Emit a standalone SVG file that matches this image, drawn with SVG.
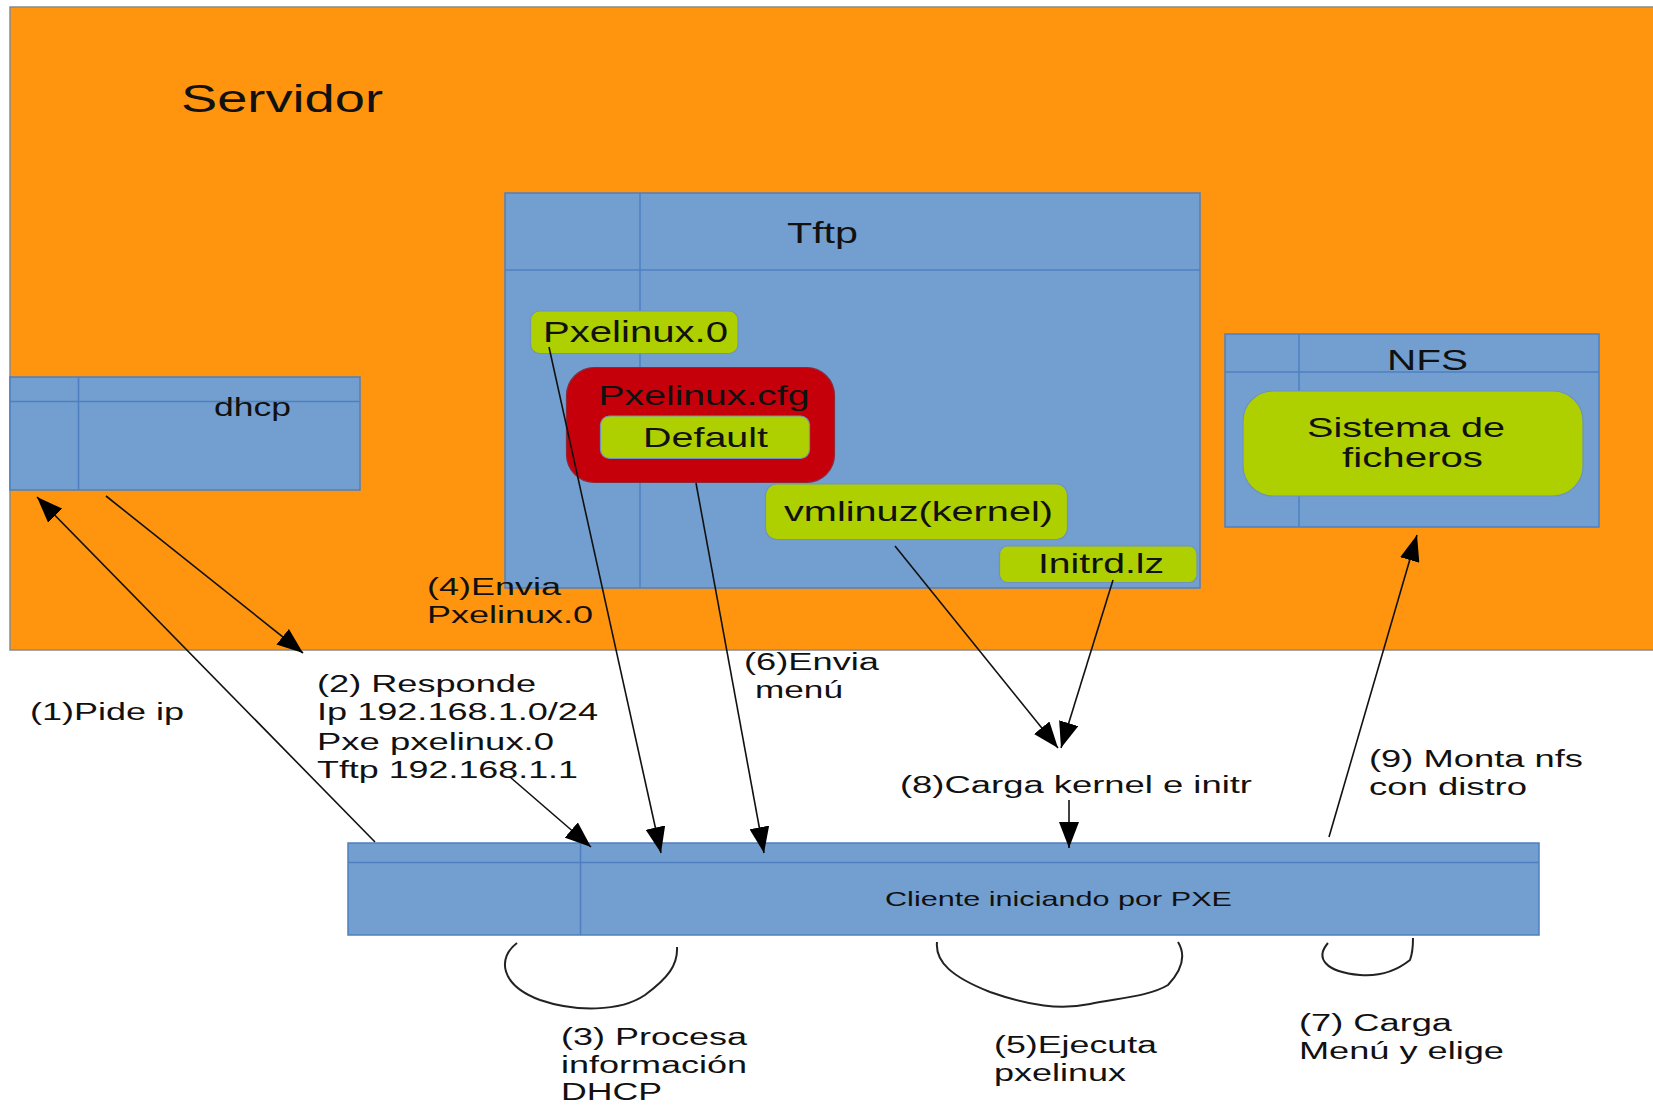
<svg xmlns="http://www.w3.org/2000/svg" width="1653" height="1107" viewBox="0 0 1653 1107">
<style>
text{font-family:"Liberation Sans",Arial,sans-serif;fill:#111;}
.blue{fill:#729FCF;stroke:#4F7FC0;stroke-width:1.5;}
.div{stroke:#4F7FC0;stroke-width:1.5;fill:none;}
.green{fill:#AECF00;stroke:#6F93BE;stroke-width:1.2;}
.red{fill:#C5000B;stroke:#8C2A3A;stroke-width:1.2;}
.conn{stroke:#111;stroke-width:1.6;fill:none;}
.arr{marker-end:url(#ah);}
.curve{stroke:#222;stroke-width:2;fill:none;}
.lbl{font-size:23px;}
</style>
<defs>
<marker id="ah" viewBox="0 0 26 20" refX="26" refY="10" markerWidth="26" markerHeight="20" markerUnits="userSpaceOnUse" orient="auto">
<path d="M0,0 L26,10 L0,20 z" fill="#000"/>
</marker>
</defs>
<rect width="1653" height="1107" fill="#fff"/>
<g id="servidor">
<rect x="10" y="7" width="1660" height="643" fill="#FF950E" stroke="#8a8a8a" stroke-width="1.5"/>
<text x="181" y="112" font-size="38" textLength="202" lengthAdjust="spacingAndGlyphs">Servidor</text>
</g>
<g id="dhcp">
<rect class="blue" x="10" y="377" width="350" height="113"/>
<line class="div" x1="10" y1="401.5" x2="360" y2="401.5"/>
<line class="div" x1="78.5" y1="377" x2="78.5" y2="490"/>
<text x="214" y="416" font-size="26" textLength="77" lengthAdjust="spacingAndGlyphs">dhcp</text>
</g>
<g id="tftp">
<rect class="blue" x="505" y="193" width="695" height="395"/>
<line class="div" x1="505" y1="270" x2="1200" y2="270"/>
<line class="div" x1="640" y1="193" x2="640" y2="588"/>
<text x="787" y="243" font-size="30" textLength="71" lengthAdjust="spacingAndGlyphs">Tftp</text>
</g>
<g id="pxelinux0">
<rect class="green" x="530.5" y="311" width="207.5" height="42.5" rx="9"/>
<text x="543" y="342" font-size="29" textLength="185" lengthAdjust="spacingAndGlyphs">Pxelinux.0</text>
</g>
<g id="pxelinuxcfg">
<rect class="red" x="566.5" y="367.5" width="268" height="115" rx="28"/>
<text x="598.5" y="405" font-size="28" textLength="211" lengthAdjust="spacingAndGlyphs">Pxelinux.cfg</text>
</g>
<g id="default">
<rect class="green" x="600.5" y="416" width="209" height="42.5" rx="9"/>
<text x="643" y="446.5" font-size="28" textLength="125" lengthAdjust="spacingAndGlyphs">Default</text>
</g>
<g id="vmlinuz">
<rect class="green" x="765.5" y="484" width="302" height="55.5" rx="11"/>
<text x="784" y="520.5" font-size="27" textLength="269" lengthAdjust="spacingAndGlyphs">vmlinuz(kernel)</text>
</g>
<g id="initrd">
<rect class="green" x="999.5" y="546" width="197.5" height="36.5" rx="8"/>
<text x="1038" y="573" font-size="28" textLength="126" lengthAdjust="spacingAndGlyphs">Initrd.lz</text>
</g>
<g id="nfs">
<rect class="blue" x="1225" y="334" width="374" height="193"/>
<line class="div" x1="1225" y1="372" x2="1599" y2="372"/>
<line class="div" x1="1299" y1="334" x2="1299" y2="527"/>
<text x="1387" y="370" font-size="30" textLength="81" lengthAdjust="spacingAndGlyphs">NFS</text>
</g>
<g id="sistema">
<rect class="green" x="1243" y="391" width="340" height="105" rx="30"/>
<text x="1307" y="437" font-size="28" textLength="198" lengthAdjust="spacingAndGlyphs">Sistema de</text>
<text x="1342" y="467" font-size="28" textLength="141" lengthAdjust="spacingAndGlyphs">ficheros</text>
</g>
<g id="cliente">
<rect class="blue" x="348" y="843" width="1191" height="92"/>
<line class="div" x1="348" y1="862.5" x2="1539" y2="862.5"/>
<line class="div" x1="580.5" y1="843" x2="580.5" y2="935"/>
<text x="885" y="906" font-size="21" textLength="347" lengthAdjust="spacingAndGlyphs">Cliente iniciando por PXE</text>
</g>
<g id="connectors">
<line class="conn arr" x1="375" y1="842" x2="37" y2="497"/>
<line class="conn arr" x1="106" y1="496" x2="303" y2="653"/>
<line class="conn arr" x1="510" y1="777" x2="591" y2="847"/>
<line class="conn arr" x1="549" y1="347" x2="661" y2="853"/>
<line class="conn arr" x1="696" y1="483" x2="764" y2="853"/>
<line class="conn arr" x1="895" y1="546" x2="1058" y2="748"/>
<line class="conn arr" x1="1113" y1="580" x2="1061" y2="748"/>
<line class="conn arr" x1="1069" y1="800" x2="1069" y2="848"/>
<line class="conn arr" x1="1329" y1="837" x2="1417" y2="535"/>
<path class="curve" d="M517 943 C497 958,500 985,540 1000 C575 1012,620 1012,645 995 C668 978,678 965,677 947"/>
<path class="curve" d="M937 942 C935 962,952 977,990 992 C1030 1006,1060 1010,1090 1004 C1120 998,1150 996,1168 985 C1182 970,1186 955,1178 942"/>
<path class="curve" d="M1328 943 C1315 958,1325 972,1360 975 C1385 977,1400 968,1410 960 C1413 952,1413 945,1413 938"/>
</g>
<g id="labels" class="lbl">
<text x="30" y="720" font-size="23" textLength="154" lengthAdjust="spacingAndGlyphs">(1)Pide ip</text>
<text x="317" y="692" font-size="23" textLength="219" lengthAdjust="spacingAndGlyphs">(2) Responde</text>
<text x="317" y="720" font-size="23" textLength="281" lengthAdjust="spacingAndGlyphs">Ip 192.168.1.0/24</text>
<text x="317" y="750" font-size="23" textLength="237" lengthAdjust="spacingAndGlyphs">Pxe pxelinux.0</text>
<text x="317" y="778" font-size="23" textLength="261" lengthAdjust="spacingAndGlyphs">Tftp 192.168.1.1</text>
<text x="427" y="595" font-size="23" textLength="134" lengthAdjust="spacingAndGlyphs">(4)Envia</text>
<text x="427" y="623" font-size="23" textLength="166" lengthAdjust="spacingAndGlyphs">Pxelinux.0</text>
<text x="744" y="670" font-size="23" textLength="135" lengthAdjust="spacingAndGlyphs">(6)Envia</text>
<text x="755" y="698" font-size="23" textLength="88" lengthAdjust="spacingAndGlyphs">menú</text>
<text x="900" y="793" font-size="23" textLength="352" lengthAdjust="spacingAndGlyphs">(8)Carga kernel e initr</text>
<text x="1369" y="767" font-size="23" textLength="214" lengthAdjust="spacingAndGlyphs">(9) Monta nfs</text>
<text x="1369" y="795" font-size="23" textLength="158" lengthAdjust="spacingAndGlyphs">con distro</text>
<text x="561" y="1045" font-size="23" textLength="186" lengthAdjust="spacingAndGlyphs">(3) Procesa</text>
<text x="561" y="1073" font-size="23" textLength="186" lengthAdjust="spacingAndGlyphs">información</text>
<text x="561" y="1100" font-size="23" textLength="101" lengthAdjust="spacingAndGlyphs">DHCP</text>
<text x="994" y="1053" font-size="23" textLength="163" lengthAdjust="spacingAndGlyphs">(5)Ejecuta</text>
<text x="994" y="1081" font-size="23" textLength="132" lengthAdjust="spacingAndGlyphs">pxelinux</text>
<text x="1299" y="1031" font-size="23" textLength="153" lengthAdjust="spacingAndGlyphs">(7) Carga</text>
<text x="1299" y="1059" font-size="23" textLength="205" lengthAdjust="spacingAndGlyphs">Menú y elige</text>
</g>
</svg>
